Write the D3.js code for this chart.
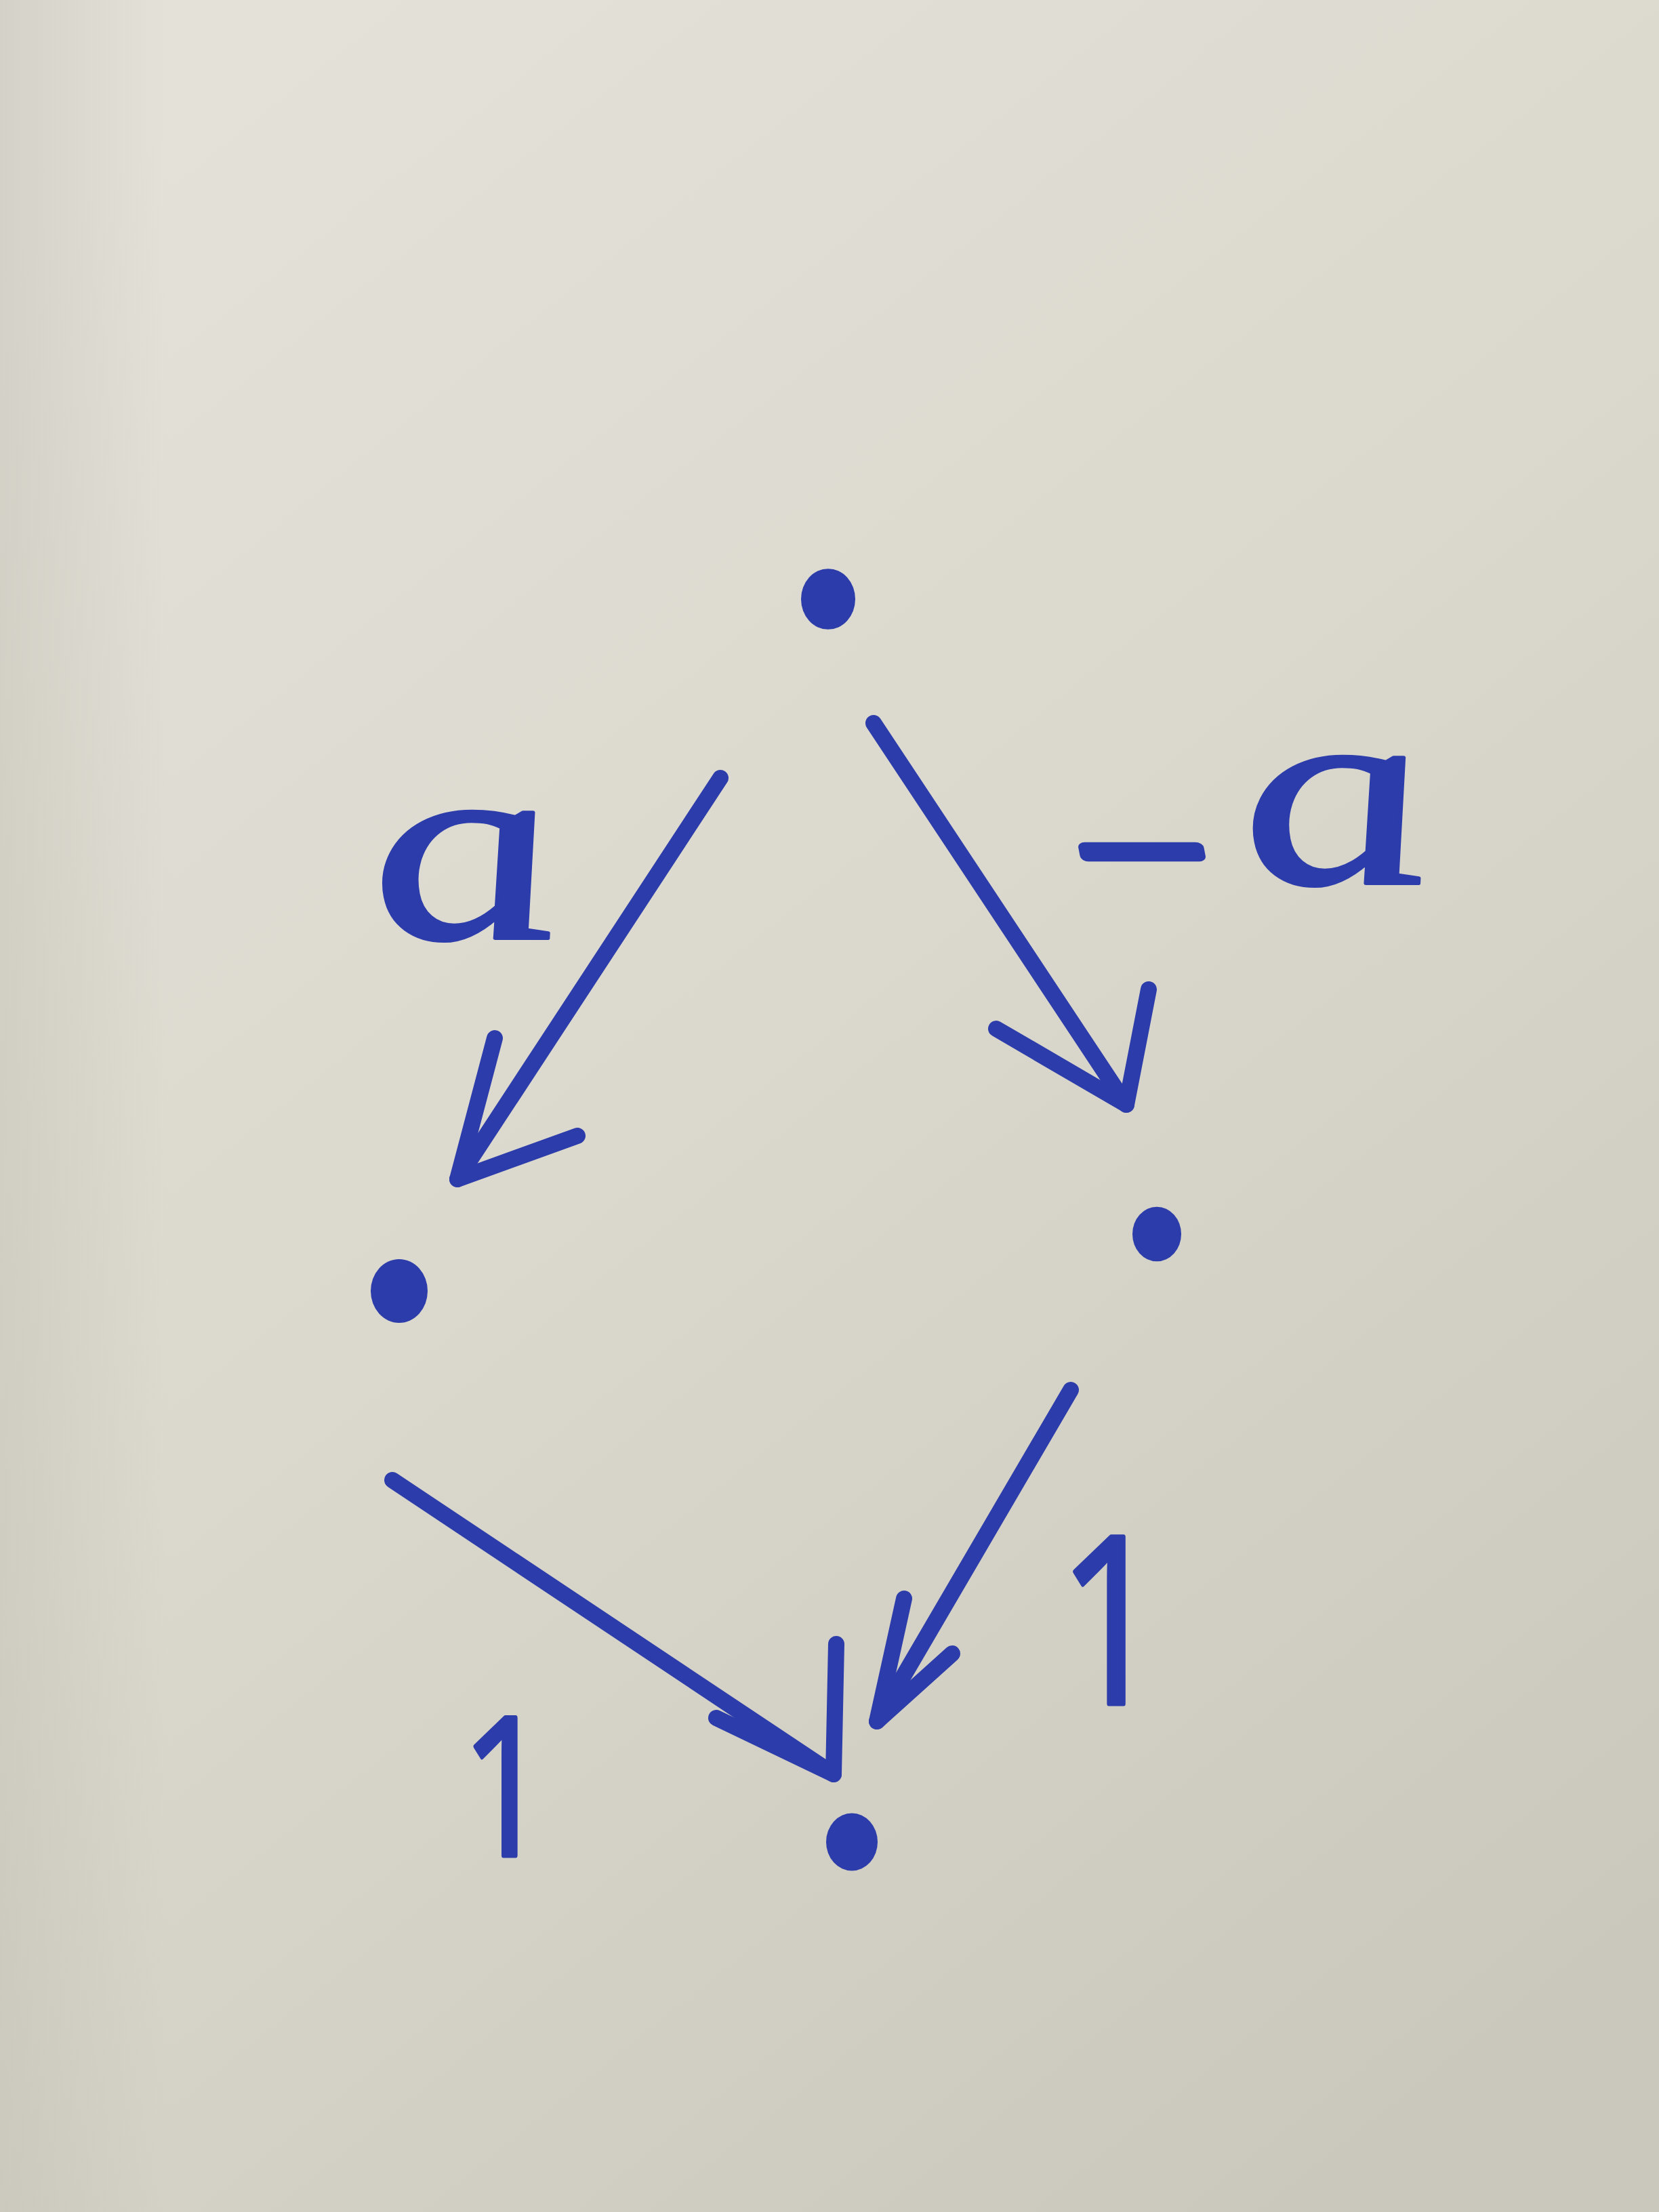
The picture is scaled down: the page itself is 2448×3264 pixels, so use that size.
<!DOCTYPE html>
<html>
<head>
<meta charset="utf-8">
<script src="https://cdn.jsdelivr.net/npm/d3@7"></script>
<style>
    html, body { margin: 0; padding: 0; background: #d8d5ca; }
    svg { display: block; }
</style>
</head>
<body>
<svg class="chart"></svg>
<script>
// positions, in photo pixels (2448 x 3264)
const nodeNames = ["top", "left", "right", "bottom"];
const nodeX = [1222, 589, 1707, 1257];
const nodeY = [884, 1905, 1821, 2718];
const nodeR = [40, 42, 36, 38];

// arrows: shaft start, tip, and the two barb ends
const arrowNames = ["a", "-a", "1 left", "1 right"];
const shaftX0 = [1063, 1289, 579, 1580];
const shaftY0 = [1148, 1067, 2184, 2051];
const tipX = [675, 1662, 1230, 1294];
const tipY = [1740, 1630, 2618, 2540];
const barbAX = [730, 1470, 1057, 1334];
const barbAY = [1532, 1518, 2535, 2359];
const barbBX = [852, 1695, 1234, 1405];
const barbBY = [1676, 1460, 2426, 2440];

// edge labels
const labelText = ["a", "\u2212a", "1", "1"];
const labelX = [704, 1862, 746, 1640];
const labelY = [1385, 1304, 2738, 2514];

const width = 2448;
const height = 3264;
const ink = "#2c3caa";

const svg = d3.select(".chart")
    .attr("width", width)
    .attr("height", height);

const x = d3.scaleLinear().domain([0, 2448]).range([0, width]);
const y = d3.scaleLinear().domain([0, 3264]).range([0, height]);

// paper
const defs = svg.append("defs");
const paper = defs.append("linearGradient")
    .attr("id", "paper")
    .attr("x1", "0.2").attr("y1", "0")
    .attr("x2", "0.8").attr("y2", "1");
paper.append("stop").attr("offset", "0").attr("stop-color", "#e3e1d8");
paper.append("stop").attr("offset", "0.45").attr("stop-color", "#dbd8ce");
paper.append("stop").attr("offset", "1").attr("stop-color", "#cac7bc");

const shade = defs.append("linearGradient")
    .attr("id", "shade")
    .attr("x1", "0").attr("y1", "0")
    .attr("x2", "1").attr("y2", "0");
shade.append("stop").attr("offset", "0").attr("stop-color", "#b9b6ab").attr("stop-opacity", 0.35);
shade.append("stop").attr("offset", "0.1").attr("stop-color", "#b9b6ab").attr("stop-opacity", 0);

svg.append("rect")
    .attr("width", width)
    .attr("height", height)
    .attr("fill", "url(#paper)");

svg.append("rect")
    .attr("width", width)
    .attr("height", height)
    .attr("fill", "url(#shade)");

// arrows
const arrows = svg.append("g")
    .attr("stroke", ink)
    .attr("stroke-width", 24)
    .attr("stroke-linecap", "round")
    .attr("stroke-linejoin", "round")
    .attr("fill", "none");

arrowNames.forEach((name, i) =>
{
    const g = arrows.append("g").attr("class", "arrow");

    g.append("line")
        .attr("x1", x(shaftX0[i]))
        .attr("y1", y(shaftY0[i]))
        .attr("x2", x(tipX[i]))
        .attr("y2", y(tipY[i]));

    g.append("path")
        .attr("d", d3.line()([
            [x(barbAX[i]), y(barbAY[i])],
            [x(tipX[i]), y(tipY[i])],
            [x(barbBX[i]), y(barbBY[i])]
        ]));
});

// nodes
svg.selectAll(".node")
    .data(nodeNames)
    .enter()
    .append("ellipse")
    .attr("class", "node")
    .attr("cx", (d, i) => x(nodeX[i]))
    .attr("cy", (d, i) => y(nodeY[i]))
    .attr("rx", (d, i) => nodeR[i])
    .attr("ry", (d, i) => nodeR[i] * 1.12)
    .attr("fill", ink);

// labels: the letters are wide, upright handwriting, the ones are plain strokes
labelText.forEach((t, i) =>
{
    const isOne = t === "1";
    const label = svg.append("text")
        .attr("class", "label")
        .attr("transform", isOne
            ? `translate(${x(labelX[i])},${y(labelY[i])}) scale(0.8,1)`
            : `translate(${x(labelX[i])},${y(labelY[i])}) skewX(11) scale(1.4,1)`)
        .attr("text-anchor", "middle")
        .attr("fill", ink)
        .attr("stroke", ink)
        .attr("stroke-width", isOne ? 7 : 4)
        .attr("stroke-linejoin", "round")
        .style("font-family", isOne ? "Open Sans" : "Liberation Serif")
        .style("font-style", isOne ? "normal" : "italic")
        .style("font-size", isOne ? (i === 2 ? "285px" : "345px") : "400px");

    if (t.startsWith("\u2212"))
    {
        label.append("tspan")
            .attr("dy", 36)
            .attr("stroke-width", 16)
            .style("font-size", "250px")
            .style("font-style", "normal")
            .text("\u2212");
        label.append("tspan")
            .attr("dy", -36)
            .attr("dx", 40)
            .text(t.slice(1));
    }
    else
        label.text(t);
});
</script>
</body>
</html>
